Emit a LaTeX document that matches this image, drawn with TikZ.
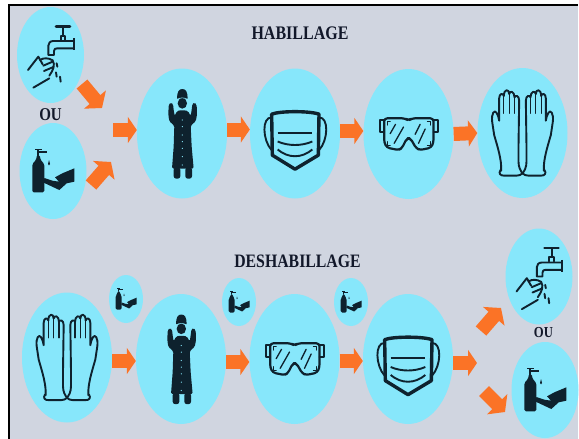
\documentclass[tikz,border=0pt]{standalone}
\usepackage{fontspec}
\setmainfont{Liberation Serif}
\usetikzlibrary{arrows.meta,shapes.geometric}
\definecolor{bgc}{RGB}{208,213,224}
\definecolor{cyanc}{RGB}{135,231,251}
\definecolor{orangec}{RGB}{251,115,38}
\definecolor{inkc}{RGB}{14,34,46}
\definecolor{textc}{RGB}{18,24,42}
\tikzset{
  bubble/.style={shape=ellipse,fill=cyanc,draw=none,inner sep=0pt,minimum width=#1},
  big/.style={bubble=90pt,minimum height=130pt},
  mid/.style={bubble=67pt,minimum height=96pt},
  tiny/.style={bubble=34pt,minimum height=48pt},
  blk/.style={draw=orangec,line width=14pt,-{Triangle[length=9pt,width=26pt]}},
  blkd/.style={draw=orangec,line width=14pt,-{Triangle[length=11pt,width=28pt]}},
  inkl/.style={draw=inkc,line width=1.9pt,line join=round,line cap=round,fill=none},
  inkf/.style={fill=inkc,draw=none},
  ttl/.style={text=textc,font=\bfseries,inner sep=0pt}
}
\newcommand\iconrobe[3]{\begin{scope}[shift={(#1,#2)},scale=#3/3,shift={(-81,-160.5)}]
 \path[inkf,rounded corners=1.5pt] (82,90)--(66,93)--(59,108)--(56,90)--(54,72)--(48,67)--(41,74)--(40,105)--(43,124)--(58,137)--(56,200)--(51,266)--(116,266)--(110,200)--(107,137)--(122,124)--(126,105)--(125,74)--(118,67)--(112,72)--(110,90)--(107,108)--(99,93)--cycle;
 \path[inkf,rounded corners=2.5pt] (56,262) rectangle (76,296);
 \path[inkf,rounded corners=2.5pt] (91,262) rectangle (111,296);
 \path[inkf] (82,70) ellipse [x radius=14,y radius=16];
 \path[inkf] (66,56)..controls (66,35) and (72,27)..(82,27)..controls (92,27) and (98,35)..(98,56)--cycle;
 \draw[cyanc,line width=.5pt] (68,58)..controls (75,52) and (89,52)..(96,58);
 \foreach \yy in {120,140,165,185,205,230,255}{\path[fill=cyanc] (82,\yy) circle (1.8);}
\end{scope}}
\newcommand\iconmask[3]{\begin{scope}[shift={(#1,#2)},scale=#3/3,shift={(-120,-100)}]
 \draw[inkc,line width=3.4pt,line join=round] (50,42)..controls (75,32) and (165,32)..(192,42)--(190,165)--(120,207)--(52,165)--cycle;
 \draw[inkl] (50,52)..controls (20,50) and (22,120)..(50,150);
 \draw[inkl] (192,52)..controls (222,50) and (220,120)..(192,150);
 \draw[inkc,line width=1.9pt] (68,98)--(172,98);
 \draw[inkc,line width=1.9pt] (68,124)..controls (100,138) and (140,138)..(172,124);
 \draw[inkc,line width=1.9pt] (68,148)..controls (100,175) and (140,175)..(172,148);
\end{scope}}
\newcommand\icongog[3]{\begin{scope}[shift={(#1,#2)},scale=#3/3,shift={(-115,-87)}]
 \draw[inkl,line width=2.2pt,rounded corners=3pt] (42,40)--(105,40)--(115,47)--(125,40)--(190,40)--(190,112)--(183,128)--(150,135)--(138,130)--(121,100)--(110,100)--(95,130)--(85,135)--(50,128)--(42,112)--cycle;
 \draw[inkl] (42,46)--(30,46)--(30,80)--(42,80);
 \draw[inkl] (190,46)--(203,46)--(203,80)--(190,80);
 \draw[inkl,line width=1.3pt] (60,86)--(76,58) (72,115)--(100,66) (135,88)--(150,58) (145,115)--(165,72);
 \draw[inkl,line width=1.3pt] (52,60)--(52,49)--(60,49) (52,110)--(52,121)--(60,121) (180,60)--(180,49)--(172,49) (180,110)--(180,121)--(172,121);
\end{scope}}
\newcommand\halfglove{
 \draw[inkl] (-64,272)..controls (-62,240) and (-75,200)..(-85,165)--(-91,125)..controls (-94,100) and (-84,88)..(-78,98)..controls (-73,105) and (-71,115)..(-70,122)--(-70,55)..controls (-70,40) and (-58,38)..(-56,48)..controls (-56,26) and (-40,26)..(-40,42)..controls (-38,30) and (-24,34)..(-24,52)..controls (-22,44) and (-10,46)..(-10,62)--(-12,200)--(-12,245)..controls (-12,262) and (-6,272)..(0,280);
 \draw[inkl] (-66,270)..controls (-72,280) and (-68,287)..(-55,287)--(-18,287)..controls (-10,287) and (-4,284)..(0,280);
 \draw[inkl,line width=1.3pt] (-56,48)--(-56,100) (-40,42)--(-40,100) (-24,52)--(-24,100);
}
\newcommand\icongloves[3]{\begin{scope}[shift={(#1,#2)},scale=#3/3,shift={(0,-159)}]
 \halfglove
 \begin{scope}[xscale=-1]\halfglove\end{scope}
\end{scope}}
\newcommand\icontap[3]{\begin{scope}[shift={(#1,#2)},scale=#3/3,shift={(-91.5,-120)}]
 \draw[inkc,line width=2.6pt,line cap=round] (108,35)--(150,35);
 \draw[inkc,line width=2pt] (129,35)--(129,65);
 \draw[inkl] (122,75)--(122,62)--(136,62)--(136,75);
 \draw[inkl] (160,78)--(100,78)..controls (90,78) and (85,85)..(85,92)--(85,120)--(102,120)--(102,108)..controls (102,102) and (106,100)..(112,100)--(160,100);
 \draw[inkc,line width=2.2pt] (161,70)--(161,106);
 \draw[inkl] (24,165)--(55,125)--(68,148);
 \draw[inkl] (60,135)..controls (70,128) and (85,128)..(98,136)..controls (106,150) and (100,165)..(88,182);
 \draw[inkl] (88,190)--(40,218);
 \draw[inkl] (70,152)--(98,140) (72,168)--(100,156);
 \draw[inkl] (110,145)--(112,155) (108,172)--(110,185) (120,185)--(122,200);
\end{scope}}
\newcommand\iconsoap[3]{\begin{scope}[shift={(#1,#2)},scale=#3/3,shift={(-84,-93)}]
 \path[inkf,rounded corners=1.5pt] (22,157)--(22,72)--(33,60)--(36,45)--(44,45)--(47,60)--(58,72)--(58,157)--cycle;
 \path[inkf] (36,47) rectangle (43,28);
 \path[inkf] (29,26) rectangle (50,31);
 \path[inkf] (43,34) rectangle (66,39);
 \path[inkf] (72,60)--(75,72)--(72,76)--(69,72)--cycle;
 \path[inkf] (148,85)--(148,125)--(125,130)--(103,150)--(56,128)--(58,114)--(82,122)--(102,125)--(90,112)--(112,100)--cycle;
\end{scope}}
\begin{document}
\begin{tikzpicture}[x=1pt,y=-1pt]
\useasboundingbox (0,0) rectangle (579,439);
\fill[white] (0,0) rectangle (579,439);
\fill[bgc] (9,5) rectangle (578,439);
\fill[black] (8.3,4) rectangle (578,6);
\fill[black] (8.3,4) rectangle (10,439);
% top row
\node[mid] (tapa) at (50.5,55) {};
\node[mid] (soapa) at (53,171) {};
\node[big] (robea) at (182,133.5) {};
\node[big] (maska) at (295,133.5) {};
\node[big] (goga) at (408.5,134) {};
\node[big] (glovea) at (522.5,133) {};
% bottom row
\node[big] (gloveb) at (67,357.5) {};
\node[big] (robeb) at (181,359) {};
\node[big] (gogb) at (294.5,359) {};
\node[big] (maskb) at (408,359) {};
\node[tiny] (smalla) at (126,299) {};
\node[tiny] (smallb) at (239,302) {};
\node[tiny] (smallc) at (351,302) {};
\node[mid] (tapb) at (539,276.5) {};
\node[mid] (soapb) at (545,390) {};
% icons
\icontap{50.5}{55}{1}
\iconsoap{53}{171}{1}
\iconrobe{182}{133.5}{1}
\iconmask{295}{133.5}{1}
\icongog{408.5}{134}{1}
\icongloves{522.5}{133}{1}
\icongloves{67}{357.5}{1}
\iconrobe{181}{359}{1}
\icongog{294.5}{359}{1}
\iconmask{408}{359}{1}
\iconsoap{126}{299}{.5}
\iconsoap{239}{302}{.5}
\iconsoap{351}{302}{.5}
\icontap{539}{276.5}{1}
\iconsoap{545}{390}{1}
% free ends
\coordinate (p1) at (82,84);
\coordinate (p2) at (102,108);
\coordinate (p3) at (91,185);
\coordinate (p4) at (111,162);
\coordinate (p5) at (113,130);
\coordinate (p6) at (453,363);
\coordinate (p7) at (477,363);
\coordinate (p8) at (481,331);
\coordinate (p9) at (501,308);
\coordinate (p10) at (484,391);
\coordinate (p11) at (505,412);
% arrows
\draw[blkd] (p1)--(p2);
\draw[blkd] (p3)--(p4);
\draw[blk] (p5)--(robea.west |- p5);
\draw[blk] ([yshift=4pt]robea.east)--([yshift=4pt]maska.west);
\draw[blk] ([yshift=2.5pt]maska.east)--([yshift=3pt]goga.west);
\draw[blk] (goga.east)--(glovea.west);
\draw[blk] ([yshift=-3.5pt]gloveb.east)--([yshift=-2pt]robeb.west);
\draw[blk] ([yshift=-3pt]robeb.east)--([yshift=-3pt]gogb.west);
\draw[blk] ([yshift=-2pt]gogb.east)--([yshift=-2pt]maskb.west);
\draw[blk] (p6)--(p7);
\draw[blkd] (p8)--(p9);
\draw[blkd] (p10)--(p11);
% labels
\node[ttl,font=\bfseries\fontsize{16}{16}\selectfont] (t1) at (300,33) {\scalebox{1}[1.2]{HABILLAGE}};
\node[ttl,font=\bfseries\fontsize{15.8}{16}\selectfont] (t2) at (297.5,261.7) {\scalebox{1}[1.2]{DESHABILLAGE}};
\node[ttl,font=\bfseries\fontsize{15}{15}\selectfont] (t3) at (50.5,115) {\scalebox{1}[1.2]{OU}};
\node[ttl,font=\bfseries\fontsize{12.7}{13}\selectfont] (t4) at (543.5,333) {\scalebox{1}[1.2]{OU}};
\end{tikzpicture}
\end{document}
